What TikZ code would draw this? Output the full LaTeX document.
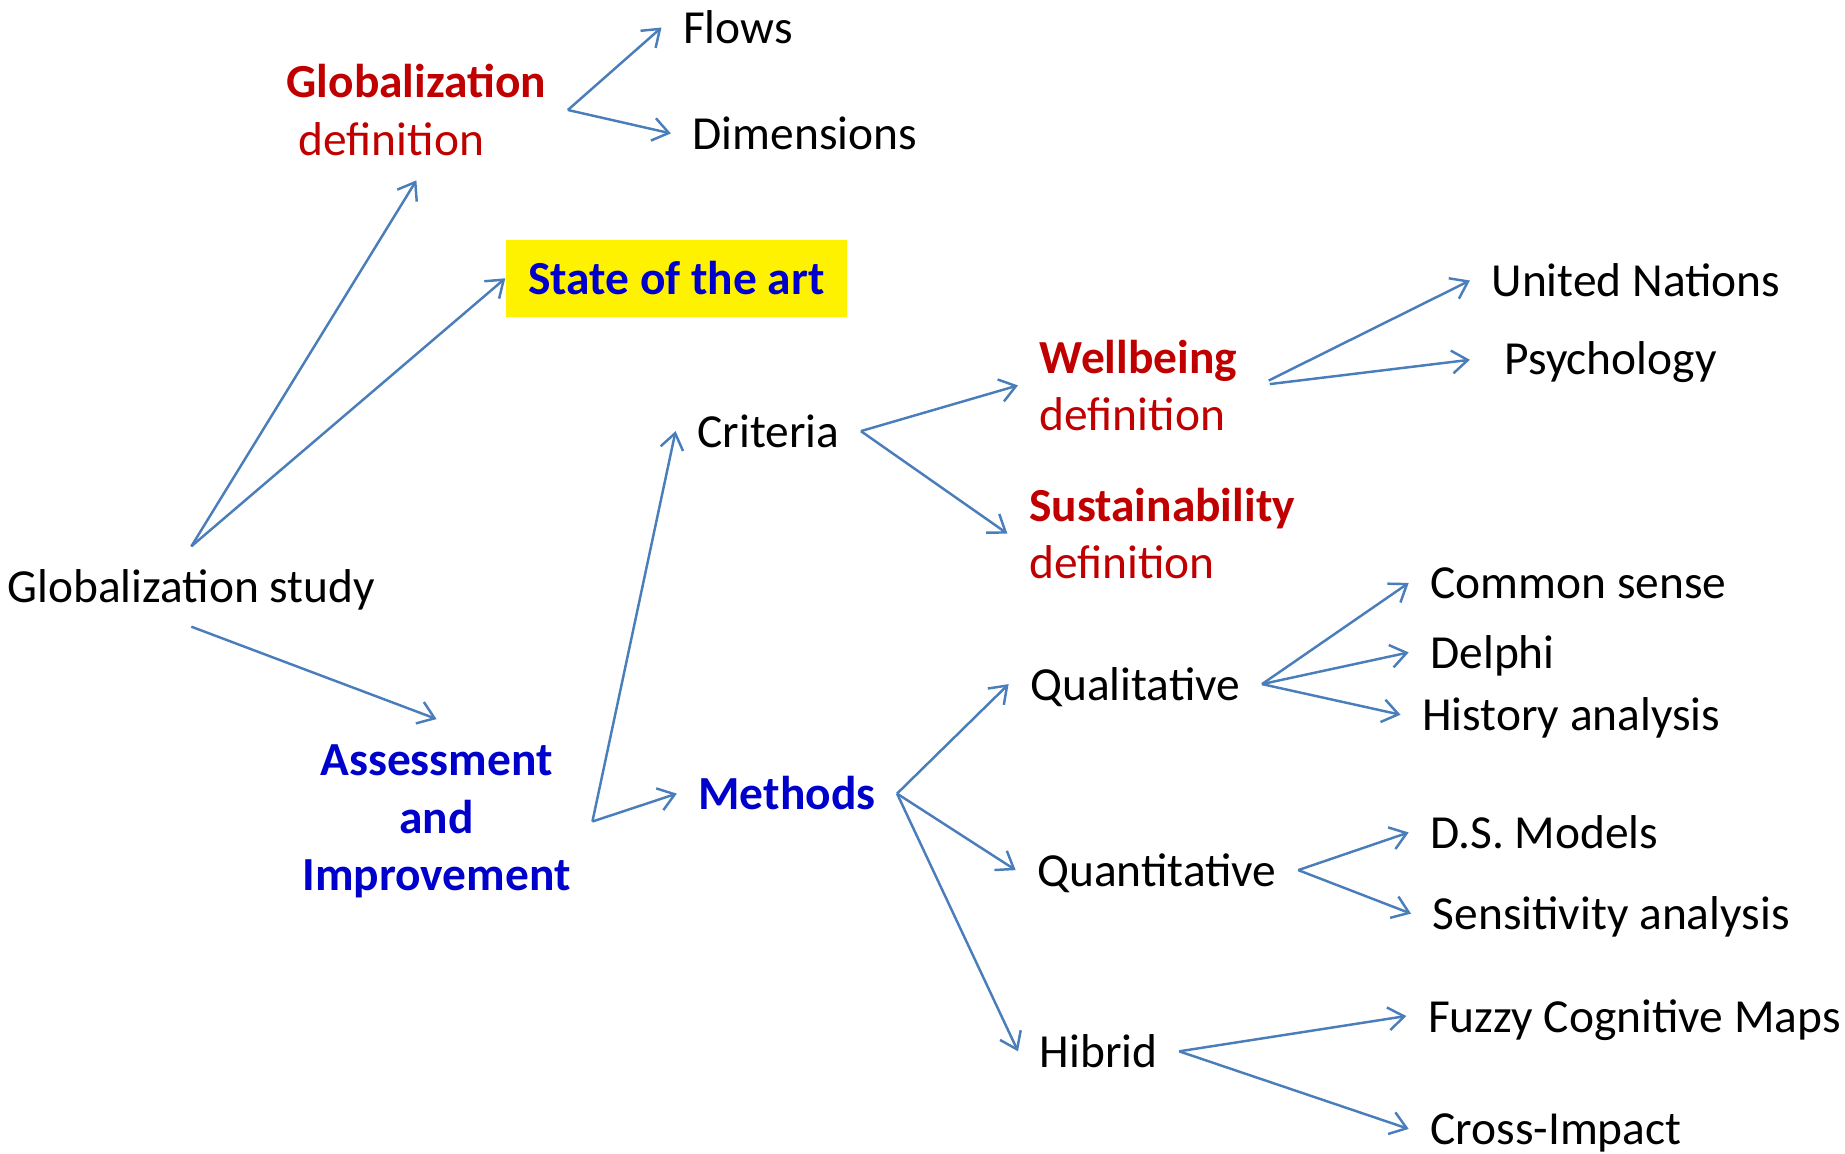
\documentclass[tikz,border=0pt]{standalone}
\usepackage{fontspec}
\setmainfont{Carlito}
\usetikzlibrary{arrows.meta, calc}
\definecolor{defred}{RGB}{192,0,0}
\definecolor{deepblue}{RGB}{0,0,204}
\definecolor{linkblue}{RGB}{74,126,187}
\newcommand{\labelsize}{\fontsize{13.5}{16.4}\selectfont}
\tikzstyle{term} = [anchor=base west,
inner xsep=2.1mm,
inner ysep=0pt,
text height=9.6pt,
text depth=0.5pt]
\tikzstyle{topic} = [term, text=deepblue, font=\labelsize\bfseries]
\tikzstyle{defblock} = [anchor=base west, inner xsep=2.1mm, inner ysep=0pt, align=left, text=defred]
\tikzstyle{highlight} = [rectangle, fill=yellow, minimum width=34.1mm, minimum height=7.65mm, inner sep=0pt, text height=9.6pt, text depth=0.5pt, text=deepblue, font=\labelsize\bfseries]
\tikzstyle{arrow} = [line width=0.7pt, draw=linkblue, -{Straight Barb[length=4.5pt,width=6.5pt]}]

\begin{document}
\begin{tikzpicture}[x=0.1mm, y=-0.1mm, font=\labelsize]

\useasboundingbox (0,0) rectangle (1845,1153);

\node (study) [term, anchor=base, inner ysep=2.17mm] at (191.3,602.5) {Globalization study};
\node (gdef) [defblock] at (264.9,155.3) {\textbf{Globalization}\\\hspace{1.2mm}definition};
\node (flows) [term] at (661.5,43.5) {Flows};
\node (dims) [term] at (670.9,149.4) {Dimensions};
\node (state) [highlight] at (676.5,278.3) {State of the art};
\node (assess) [anchor=base, inner xsep=2.1mm, inner ysep=0pt, align=center, text=deepblue, font=\labelsize\bfseries] at (436.6,890.8) {Assessment\\and\\Improvement};
\node (crit) [term] at (675.6,447.1) {Criteria};
\node (meth) [topic] at (676.8,809.6) {Methods};
\node (wdef) [defblock] at (1018,430.7) {\textbf{Wellbeing}\\definition};
\node (sdef) [defblock] at (1007.4,578.9) {\textbf{Sustainability}\\definition};
\node (un) [term] at (1469.9,296.5) {United Nations};
\node (psy) [term] at (1482.8,374.2) {Psychology};
\node (qual) [term] at (1008.6,700.1) {Qualitative};
\node (quant) [term] at (1015.7,886.1) {Quantitative};
\node (hib) [term] at (1018,1067.3) {Hibrid};
\node (common) [term] at (1408.7,598.9) {Common sense};
\node (delphi) [term] at (1408.7,668.4) {Delphi};
\node (hist) [term] at (1400.5,730.7) {History analysis};
\node (dsm) [term] at (1408.7,848.4) {D.S. Models};
\node (sens) [term] at (1411,929.6) {Sensitivity analysis};
\node (fuzzy) [term] at (1406.3,1032) {Fuzzy Cognitive Maps};
\node (cross) [term] at (1408.7,1144.9) {Cross-Impact};

\draw [arrow] (study.north) -- ($(gdef.south)+(0,24)$);
\draw [arrow] (study.north) -- (state.west);
\draw [arrow] (study.south) -- ($(assess.north)+(0,-25)$);
\draw [arrow] (gdef.east) -- (flows.west);
\draw [arrow] (gdef.east) -- (dims.west);
\draw [arrow] (assess.east) -- (crit.west);
\draw [arrow] (assess.east) -- (meth.west);
\draw [arrow] (crit.east) -- (wdef.west);
\draw [arrow] (crit.east) -- (sdef.west);
\draw [arrow, shorten <=1.1mm] (wdef.east) -- (un.west);
\draw [arrow, shorten <=1.1mm, shorten >=1.3mm] (wdef.east) -- (psy.west);
\draw [arrow] (meth.east) -- (qual.west);
\draw [arrow] (meth.east) -- (quant.west);
\draw [arrow] (meth.east) -- (hib.west);
\draw [arrow] (qual.east) -- (common.west);
\draw [arrow] (qual.east) -- (delphi.west);
\draw [arrow] (qual.east) -- (hist.west);
\draw [arrow] (quant.east) -- (dsm.west);
\draw [arrow] (quant.east) -- (sens.west);
\draw [arrow] (hib.east) -- (fuzzy.west);
\draw [arrow] (hib.east) -- (cross.west);

\end{tikzpicture}
\end{document}
